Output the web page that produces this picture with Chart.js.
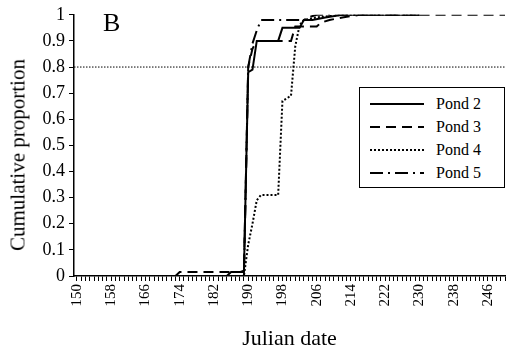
<!DOCTYPE html>
<html>
<head>
<meta charset="utf-8">
<script src="https://cdn.jsdelivr.net/npm/chart.js@4/dist/chart.umd.min.js"></script>
<style>
  html, body { margin: 0; padding: 0; background: #fff; }
  #wrap { position: relative; width: 507px; height: 357px; }
  #panel {
    position: absolute; left: 103px; top: 8px;
    font: 26px "Liberation Serif", serif; color: #000;
  }
  #ytitle {
    position: absolute; left: 18px; top: 155px; white-space: nowrap;
    transform: translate(-50%, -50%) rotate(-90deg);
    font: 21px "Liberation Serif", serif; color: #000;
  }
  #legend {
    position: absolute; left: 359px; top: 87px; width: 144px; height: 99px;
    border: 1.5px solid #000; background: #fff;
    font: 16px "Liberation Serif", serif; color: #000;
  }
  .row { position: absolute; left: 10px; height: 20px; display: flex; align-items: center; }
  .row svg { width: 54px; height: 6px; margin-right: 12px; }
</style>
</head>
<body>
<div id="wrap">
  <canvas id="chart" width="507" height="357"></canvas>
  <div id="panel">B</div>
  <div id="ytitle">Cumulative proportion</div>
  <div id="legend"></div>
</div>
<script>
'use strict';

// ─── Data ────────────────────────────────────────────────────────────────────
const seriesNames = ['Pond 2', 'Pond 3', 'Pond 4', 'Pond 5'];

const days2 = [150, 185, 186, 189, 190, 191, 192, 197, 198, 202, 203, 205, 208, 212, 230];
const vals2 = [0, 0, 0.015, 0.015, 0.78, 0.79, 0.90, 0.90, 0.95, 0.95, 0.98, 0.98, 0.99, 1.0, 1.0];

const days3 = [150, 173, 174, 188, 189, 190, 191, 192, 200, 201, 206, 207, 209, 212, 216, 250];
const vals3 = [0, 0, 0.015, 0.015, 0.02, 0.80, 0.87, 0.90, 0.90, 0.955, 0.955, 0.97, 0.98, 0.99, 1.0, 1.0];

const days4 = [150, 189, 190, 191, 192, 193, 197, 198, 200, 201, 202, 203, 206, 212, 230];
const vals4 = [0, 0, 0.12, 0.20, 0.29, 0.31, 0.31, 0.67, 0.69, 0.88, 0.96, 0.98, 0.99, 1.0, 1.0];

const days5 = [150, 189, 190, 191, 192, 193, 203, 204, 206, 230];
const vals5 = [0, 0, 0.80, 0.89, 0.94, 0.98, 0.98, 0.99, 1.0, 1.0];

const refDays = [149.3, 250];
const refVals = [0.8, 0.8];

const xTickLabels = [150, 158, 166, 174, 182, 190, 198, 206, 214, 222, 230, 238, 246];
const yTickLabels = ['0', '0.1', '0.2', '0.3', '0.4', '0.5', '0.6', '0.7', '0.8', '0.9', '1'];

// ─── Styles ──────────────────────────────────────────────────────────────────
const DASHES = [[], [10, 6], [2, 2], [13, 5, 2, 5]];
const WIDTHS = [2, 2, 2, 2];

const pts = (xs, ys) => xs.map((x, i) => ({ x, y: ys[i] }));

const datasets = [
  [days2, vals2], [days3, vals3], [days4, vals4], [days5, vals5]
].map(([xs, ys], i) => ({
  label: seriesNames[i],
  data: pts(xs, ys),
  borderColor: '#000',
  borderWidth: WIDTHS[i],
  borderDash: DASHES[i],
  pointRadius: 0,
  tension: 0,
  fill: false,
}));

datasets.push({
  label: 'ref',
  data: pts(refDays, refVals),
  borderColor: '#000',
  borderWidth: 1,
  borderDash: [1.5, 1.5],
  pointRadius: 0,
  fill: false,
});

const SERIF = '"Liberation Serif", "Times New Roman", serif';

new Chart(document.getElementById('chart'), {
  type: 'line',
  data: { datasets },
  options: {
    responsive: false,
    animation: false,
    layout: { padding: { top: 13, right: 2, left: 0, bottom: 0 } },
    plugins: { legend: { display: false }, tooltip: { enabled: false } },
    scales: {
      x: {
        type: 'linear',
        min: 149.3,
        max: 250,
        afterBuildTicks(scale) {
          const t = [];
          for (let d = 150; d <= 250; d++) t.push({ value: d });
          scale.ticks = t;
        },
        afterFit(scale) {
          scale.height = 81;
          scale.paddingLeft = 0;
          scale.paddingRight = 0;
        },
        border: { color: '#000', width: 1.5 },
        grid: { drawOnChartArea: false, drawTicks: true, tickLength: 5, color: '#000', lineWidth: 1 },
        ticks: {
          autoSkip: false,
          minRotation: 90,
          maxRotation: 90,
          padding: 3,
          color: '#000',
          font: { family: SERIF, size: 15 },
          callback: v => xTickLabels.includes(v) ? String(v) : '',
        },
        title: {
          display: true, text: 'Julian date', color: '#000',
          font: { family: SERIF, size: 22 }, padding: { top: 0, bottom: 5 },
        },
      },
      y: {
        min: 0,
        max: 1,
        afterBuildTicks(scale) {
          scale.ticks = yTickLabels.map((_, i) => ({ value: i / 10 }));
        },
        afterFit(scale) { scale.width = 74; },
        border: { color: '#000', width: 1.5 },
        grid: { drawOnChartArea: false, drawTicks: true, tickLength: 5, color: '#000', lineWidth: 1 },
        ticks: {
          padding: 4,
          color: '#000',
          font: { family: SERIF, size: 18 },
          callback: (v, i) => yTickLabels[i],
        },
      },
    },
  },
});

// ─── Legend ──────────────────────────────────────────────────────────────────
const legendEl = document.getElementById('legend');
const rowTops = [6, 29, 52, 75];
seriesNames.forEach((name, i) => {
  const row = document.createElement('div');
  row.className = 'row';
  row.style.top = rowTops[i] + 'px';
  row.innerHTML = `<svg viewBox="0 0 54 6"><line x1="0" y1="3" x2="54" y2="3" stroke="#000"
    stroke-width="${WIDTHS[i]}" stroke-dasharray="${DASHES[i].join(' ')}"/></svg><span>${name}</span>`;
  legendEl.appendChild(row);
});
</script>
</body>
</html>
